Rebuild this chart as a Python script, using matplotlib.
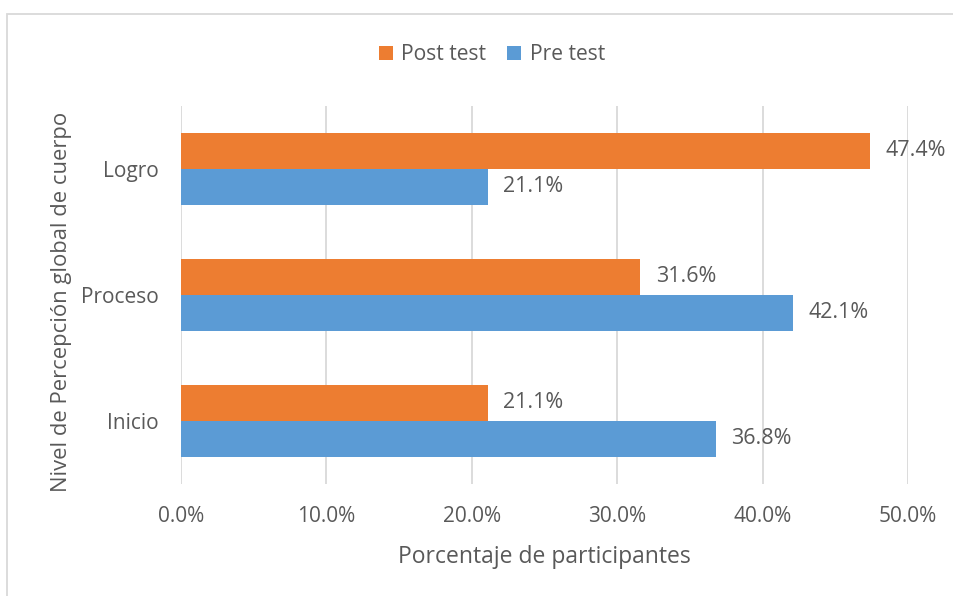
import matplotlib
matplotlib.use("Agg")
import matplotlib.pyplot as plt
from matplotlib.patches import Rectangle

categories = ["Inicio", "Proceso", "Logro"]
pre_test = [36.8, 42.1, 21.1]
post_test = [21.1, 31.6, 47.4]
xticks = [0, 10, 20, 30, 40, 50]

plt.rcParams['font.family'] = ['Open Sans', 'DejaVu Sans']
txt = '#595959'
orange = '#ED7D31'
blue = '#5B9BD5'

fig = plt.figure(figsize=(9.54, 5.96), dpi=100)
ax = fig.add_axes([181/954, 1-484/596, (908-181)/954, (484-106)/596])

h = 36/126
ys = list(range(len(categories)))
bp = ax.barh([y + h/2 for y in ys], post_test, height=h, color=orange, label='Post test', zorder=3)
bb = ax.barh([y - h/2 for y in ys], pre_test, height=h, color=blue, label='Pre test', zorder=3)

for bars, vals in ((bp, post_test), (bb, pre_test)):
    for b, v in zip(bars, vals):
        ax.annotate(f"{v:.1f}%", (v, b.get_y() + b.get_height()/2), xytext=(11, 0),
                    textcoords='offset points', va='center', ha='left', fontsize=15.5, color=txt)

ax.set_xlim(0, 50)
ax.set_ylim(-0.5, len(categories) - 0.5)
ax.set_xticks(xticks)
ax.set_xticklabels([f"{t:.1f}%" for t in xticks], fontsize=15, color=txt)
ax.set_yticks(ys)
ax.set_yticklabels(categories, fontsize=15, color=txt)
ax.tick_params(axis='both', length=0)
ax.tick_params(axis='x', pad=16)
ax.tick_params(axis='y', pad=16)
ax.xaxis.grid(True, color='#D9D9D9', linewidth=1.3, zorder=0)
ax.yaxis.grid(False)
for s in ax.spines.values():
    s.set_visible(False)

ax.set_xlabel("Porcentaje de participantes", fontsize=16.5, color=txt, labelpad=13)
fig.text(62/954, 1-302/596, "Nivel de Percepción global de cuerpo", rotation=90,
         ha='center', va='center', fontsize=15.8, color=txt)

leg = fig.legend(handles=[bp, bb], loc='center', bbox_to_anchor=(492/954, 1-55/596), ncol=2,
                 frameon=False, fontsize=15.2, handlelength=0.65, handleheight=0.65,
                 handletextpad=0.4, columnspacing=1.0)
for t in leg.get_texts():
    t.set_color(txt)

fig.patches.append(Rectangle((7/954, -0.1), 1.2, 1 - 14/596 + 0.1, transform=fig.transFigure,
                             fill=False, edgecolor='#D9D9D9', linewidth=1.3))

fig.savefig("out.png", dpi=100)
